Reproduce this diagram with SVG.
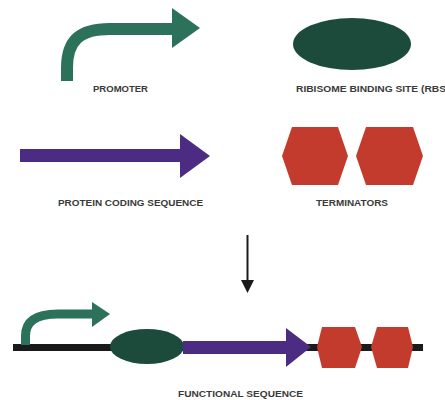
<svg xmlns="http://www.w3.org/2000/svg" width="445" height="400" viewBox="0 0 445 400">
<style>
.lbl{font-family:"Liberation Sans",Arial,sans-serif;font-weight:bold;font-size:9.5px;fill:#3a3a3a}
.prom{fill:none;stroke:#2c7159}
.promh{fill:#2c7159}
.rbs{fill:#1c4a3b}
.cds{fill:#4b2c82}
.term{fill:#c23b2c}
</style>
<rect width="445" height="400" fill="#ffffff"/>
<g id="promoter">
<path class="prom" d="M67,81 L67,68 C67,40 80,29 110,29 L173,29" stroke-width="12"/>
<polygon class="promh" points="172,8 200,28 172,48"/>
<text class="lbl" x="93" y="92" textLength="55" lengthAdjust="spacingAndGlyphs">PROMOTER</text>
</g>
<g id="rbs">
<ellipse class="rbs" cx="352" cy="44" rx="59" ry="26"/>
<text class="lbl" x="296" y="92" textLength="150" lengthAdjust="spacingAndGlyphs">RIBISOME BINDING SITE (RBS</text>
</g>
<g id="cds">
<rect class="cds" x="20" y="149" width="161" height="13"/>
<polygon class="cds" points="180,134 210,156 180,178"/>
<text class="lbl" x="58" y="206" textLength="145" lengthAdjust="spacingAndGlyphs">PROTEIN CODING SEQUENCE</text>
</g>
<g id="terminators">
<polygon class="term" points="282,156 292,127 338,127 348,156 338,185 292,185"/>
<polygon class="term" points="356,156 366,127 413,127 423,156 413,185 366,185"/>
<text class="lbl" x="316" y="206" textLength="72" lengthAdjust="spacingAndGlyphs">TERMINATORS</text>
</g>
<g id="connectors">
<line x1="247.5" y1="235" x2="247.5" y2="282" stroke="#1a1a1a" stroke-width="2"/>
<polygon points="241,280 254,280 247.5,293" fill="#1a1a1a"/>
</g>
<g id="functional-sequence">
<rect x="13" y="344" width="410" height="7" fill="#1a1a1a"/>
<path class="prom" d="M25.5,345 L25.5,336 C25.5,322 35,314 58,314 L93,314" stroke-width="9"/>
<polygon class="promh" points="92,302 110,314 92,327"/>
<ellipse class="rbs" cx="147" cy="346.5" rx="37" ry="17.5"/>
<rect class="cds" x="183" y="341" width="104" height="13"/>
<polygon class="cds" points="286,328 311,347 286,367"/>
<polygon class="term" points="317,347 322,327 355,327 362,347 355,368 322,368"/>
<polygon class="term" points="371,347 377,327 408,327 413,347 408,368 377,368"/>
<text class="lbl" x="178" y="397" textLength="125" lengthAdjust="spacingAndGlyphs">FUNCTIONAL SEQUENCE</text>
</g>
</svg>
